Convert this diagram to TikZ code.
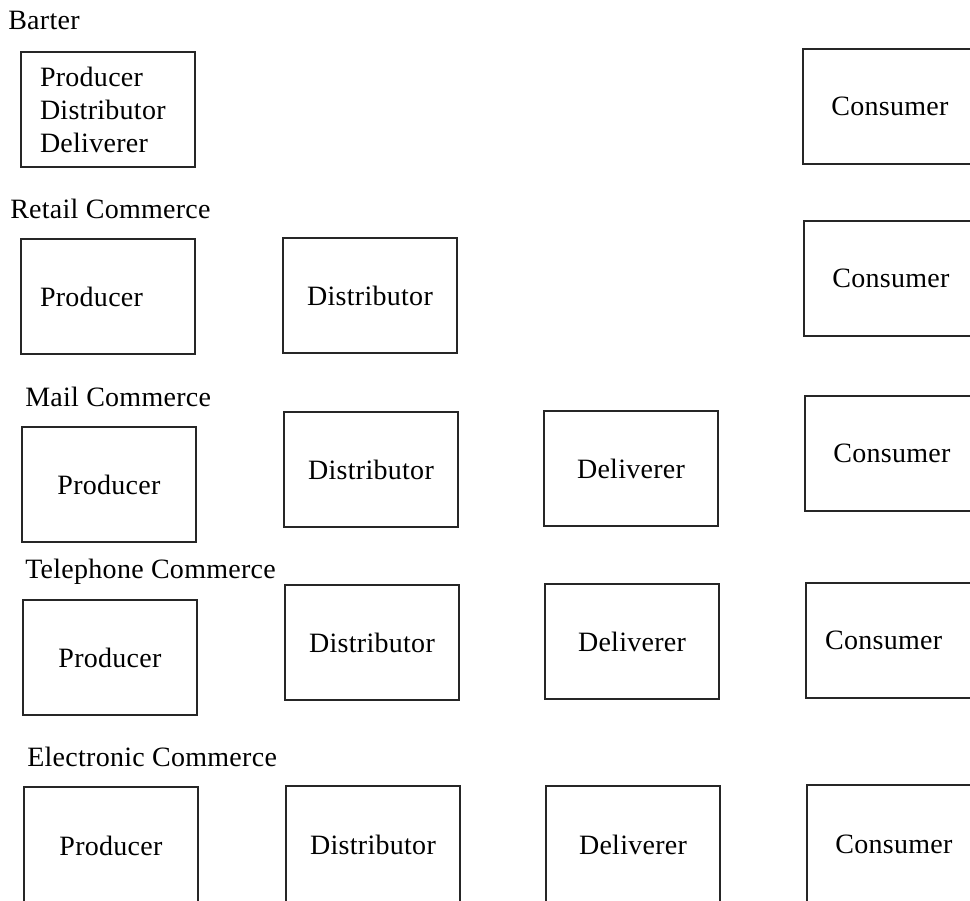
\documentclass[tikz,border=0pt]{standalone}
\usepackage{fontspec}
\setmainfont{Liberation Serif}[LetterSpace=1]
\begin{document}
\begin{tikzpicture}[x=0.75pt,y=-0.75pt,
  font=\fontsize{21}{24.75}\selectfont,
  stage/.style={draw=black!85, line width=0.9pt, minimum width=130.5pt,
    minimum height=86.25pt, inner sep=0pt, align=center},
  leftstage/.style={stage, align=left, text width=102pt, inner xsep=14.25pt},
  tallstage/.style={stage, minimum height=88.5pt},
  heading/.style={anchor=base west, inner sep=0pt}]
\useasboundingbox (0,0) rectangle (970,900);
\clip (0,0) rectangle (970,900);

% Barter
\node[heading] (hbarter) at (8,29) {Barter};
\node[leftstage] (bp) at (108,109.5) {Producer\\Distributor\\Deliverer};
\node[stage] (bc) at (890,106.5) {Consumer};

% Retail commerce
\node[heading] (hretail) at (10,218) {Retail Commerce};
\node[leftstage] (rp) at (108,296.5) {Producer};
\node[stage] (rd) at (370,295.5) {Distributor};
\node[stage] (rc) at (891,278.5) {Consumer};

% Mail commerce
\node[heading] (hmail) at (25,406) {Mail Commerce};
\node[stage] (mp) at (109,484.5) {Producer};
\node[stage] (md) at (371,469.5) {Distributor};
\node[stage] (mv) at (631,468.5) {Deliverer};
\node[stage] (mc) at (892,453.5) {Consumer};

% Telephone commerce
\node[heading] (htel) at (25,578) {Telephone Commerce};
\node[stage] (tp) at (110,657.5) {Producer};
\node[stage] (td) at (372,642.5) {Distributor};
\node[stage] (tv) at (632,641.5) {Deliverer};
\node[stage] (tc) at (893,640.5) {Consumer\hspace*{14pt}};

% Electronic commerce: the boxes run past the lower edge
\node[heading] (helec) at (27,766) {Electronic Commerce};
\node[tallstage] (ep) at (111,846) {Producer};
\node[tallstage] (ed) at (373,845) {Distributor};
\node[tallstage] (ev) at (633,845) {Deliverer};
\node[tallstage] (ec) at (894,844) {Consumer};
\end{tikzpicture}
\end{document}
